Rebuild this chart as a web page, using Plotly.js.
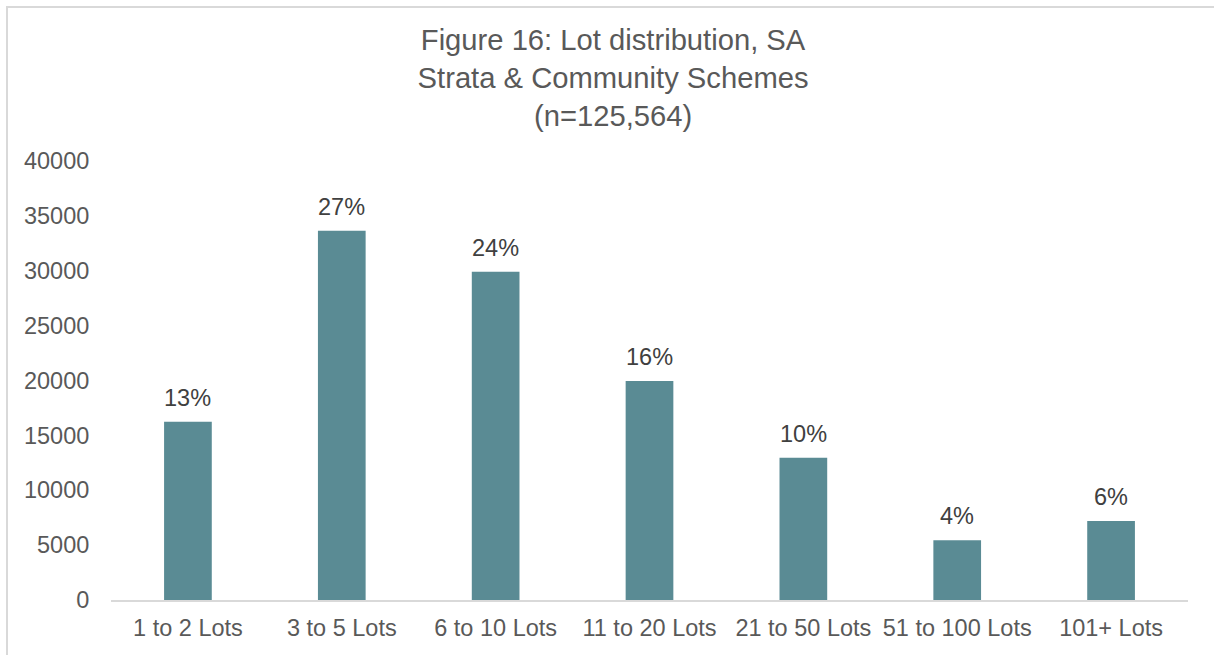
<!DOCTYPE html>
<html>
<head>
<meta charset="utf-8">
<script src="https://cdn.plot.ly/plotly-3.0.1.min.js"></script>
<style>
html,body{margin:0;padding:0;background:#fff;}
#frame{position:absolute;left:6px;top:6px;width:1220px;height:660px;border-left:2px solid #d9d9d9;border-top:2px solid #d9d9d9;pointer-events:none;z-index:10;}
#chart{position:absolute;left:0;top:0;width:1214px;height:655px;}
</style>
</head>
<body>
<div id="chart"></div>
<div id="frame"></div>
<script>
const categories = ["1 to 2 Lots","3 to 5 Lots","6 to 10 Lots","11 to 20 Lots","21 to 50 Lots","51 to 100 Lots","101+ Lots"];
const lotCounts = [16250, 33650, 29900, 19950, 12950, 5450, 7200];
const shareLabels = ["13%","27%","24%","16%","10%","4%","6%"];
const yTicks = [0,5000,10000,15000,20000,25000,30000,35000,40000];

const trace = {
  type: 'bar',
  x: categories,
  y: lotCounts,
  marker: {color: '#5a8b94'},
  hoverinfo: 'x+y'
};

const annotations = categories.map((c, i) => ({
  x: c, y: lotCounts[i], xref: 'x', yref: 'y',
  text: shareLabels[i], showarrow: false,
  yanchor: 'bottom', yshift: 9,
  font: {family: 'Liberation Sans, Arial, sans-serif', size: 23.5, color: '#404040'}
}));

const layout = {
  width: 1214, height: 655,
  margin: {l: 111, r: 26, t: 161, b: 55},
  paper_bgcolor: '#fff', plot_bgcolor: '#fff',
  font: {family: 'Liberation Sans, Arial, sans-serif', color: '#595959', size: 24},
  title: {
    text: 'Figure 16: Lot distribution, SA<br>Strata & Community Schemes<br>(n=125,564)',
    font: {family: 'Liberation Sans, Arial, sans-serif', size: 29.2, color: '#595959'},
    x: 0.505, xanchor: 'center', y: 0.923, yanchor: 'middle'
  },
  bargap: 0.69,
  showlegend: false,
  xaxis: {
    type: 'category',
    showline: true, linecolor: '#d9d9d9', linewidth: 2,
    showgrid: false, zeroline: false,
    ticks: 'outside', ticklen: 6, tickcolor: 'rgba(0,0,0,0)',
    tickfont: {size: 23.5, color: '#595959'}
  },
  yaxis: {
    range: [0, 40000],
    tickvals: yTicks, ticktext: yTicks.map(String),
    showline: false, showgrid: false, zeroline: false,
    ticks: 'outside', ticklen: 16, tickcolor: 'rgba(0,0,0,0)',
    tickfont: {size: 23.5, color: '#595959'}
  },
  annotations: annotations
};

Plotly.newPlot('chart', [trace], layout, {displayModeBar: false, staticPlot: true});
</script>
</body>
</html>
